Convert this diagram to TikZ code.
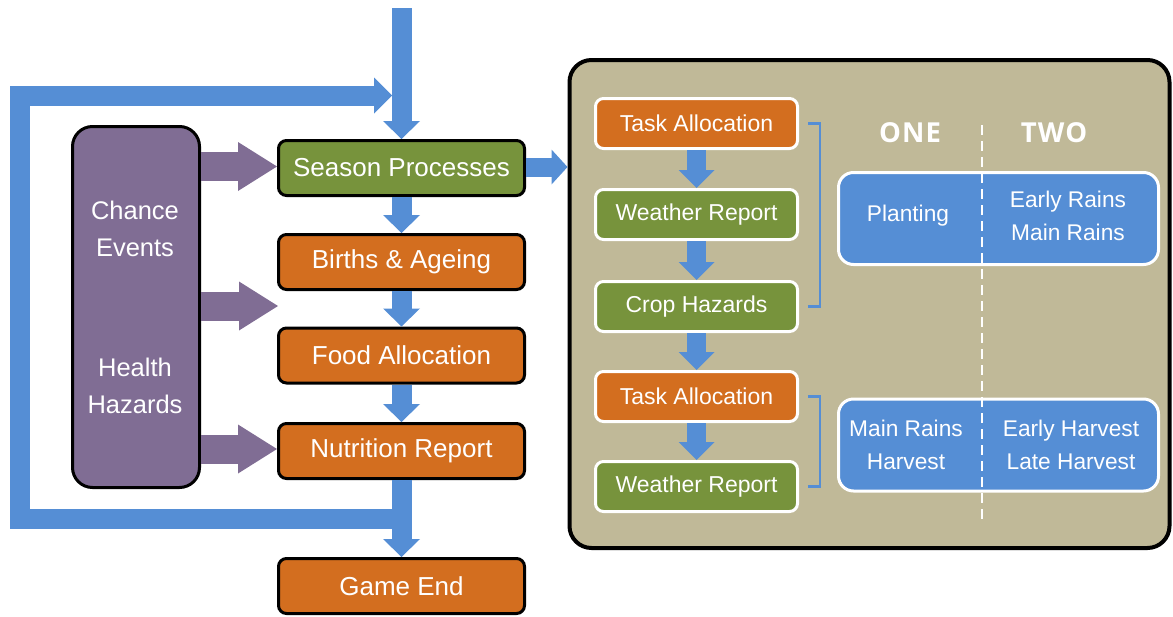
\documentclass[tikz,border=0pt]{standalone}
\usepackage{fontspec}
\setmainfont{Liberation Sans}
\newfontfamily\headfont[LetterSpace=4]{Open Sans}
\usetikzlibrary{arrows.meta}
\definecolor{cgreen}{HTML}{77933C}
\definecolor{corange}{HTML}{D36E1F}
\definecolor{cpurple}{HTML}{806D94}
\definecolor{cblue}{HTML}{558ED5}
\definecolor{ctan}{HTML}{C0B998}
\begin{document}
\begin{tikzpicture}[x=1pt,y=-1pt,
  mainbox/.style={draw=black, line width=3pt, rounded corners=8pt, minimum width=246pt, minimum height=55pt, text=white, font=\fontsize{26}{30}\selectfont, inner sep=0pt},
  inbox/.style={draw=white, line width=3pt, rounded corners=8pt, minimum width=202pt, minimum height=50pt, text=white, font=\fontsize{23}{28}\selectfont, inner sep=0pt},
  bluebox/.style={draw=white, line width=3pt, rounded corners=15pt, fill=cblue, minimum width=320pt, minimum height=92pt, inner sep=0pt},
  btext/.style={text=white, align=center, font=\fontsize{22.7}{33}\selectfont, inner sep=0pt},
  ptext/.style={text=white, align=center, font=\fontsize{25.5}{37}\selectfont, inner sep=0pt},
  htext/.style={text=white, font=\headfont\bfseries\fontsize{27.5}{30}\selectfont, inner sep=0pt},
  barrow/.style={draw=cblue, line width=20pt, -{Triangle[width=37pt,length=18pt,line width=0pt]}},
  sarrow/.style={draw=cblue, line width=19pt, -{Triangle[width=36pt,length=18pt,line width=0pt]}},
  parrow/.style={draw=cpurple, line width=29pt, -{Triangle[width=49pt,length=39pt,line width=0pt]}},
  loopline/.style={draw=cblue, line width=20pt, miter limit=10, -{Triangle[width=36pt,length=18pt,line width=0pt]}},
  bracketline/.style={draw=cblue, line width=2.5pt},
  dashline/.style={draw=white, line width=2.5pt, dash pattern=on 10pt off 6pt}
]
\useasboundingbox (0,0) rectangle (1173,616);

% right panel
\node[draw=black, line width=4pt, rounded corners=22pt, fill=ctan, minimum width=600pt, minimum height=488pt, inner sep=0pt] (panel) at (869.5,304) {};

% main column
\node[mainbox, fill=cgreen] (sp) at (401.5,168) {Season Processes};
\node[mainbox, fill=corange] (ba) at (401.5,262) {Births \& Ageing};
\node[mainbox, fill=corange] (fa) at (401.5,355.5) {Food Allocation};
\node[mainbox, fill=corange] (nr) at (401.5,451) {Nutrition Report};
\node[mainbox, fill=corange] (ge) at (401.5,586) {Game End};

% purple box
\node[draw=black, line width=3pt, rounded corners=20pt, fill=cpurple, minimum width=127pt, minimum height=361pt, inner sep=0pt] (pe) at (136,307) {};
\node[ptext] (ce) at (135,228.5) {Chance\\Events};
\node[ptext] (hh) at (135,386) {Health\\Hazards};

% coordinates
\coordinate (top) at (401.5,8);
\coordinate (gap) at (278,306);
\coordinate (lb) at (401.5,519);
\coordinate (lt) at (392,95.5);

% loop
\draw[loopline] (lb) -- (20,519) -- (20,95.5) -- (lt);
% blue arrows main column
\draw[barrow] (top) -- (sp.north);
\draw[barrow] (sp.south) -- (ba.north);
\draw[barrow] (ba.south) -- (fa.north);
\draw[barrow] (fa.south) -- (nr.north);
\draw[barrow] (nr.south) -- (ge.north);
\draw[draw=cblue, line width=19pt, -{Triangle[width=35pt,length=16pt,line width=0pt]}] (sp.east |- 0,167) -- (panel.west |- 0,167);

% purple arrows
\draw[parrow] (pe.east |- 0,166.5) -- (sp.west |- 0,166.5);
\draw[parrow] (pe.east |- gap) -- (gap);
\draw[parrow] (pe.east |- 0,449) -- (nr.west |- 0,449);

% inner boxes
\node[inbox, fill=corange] (ta1) at (696.5,123.5) {Task Allocation};
\node[inbox, fill=cgreen] (wr1) at (696.5,214.5) {Weather Report};
\node[inbox, fill=cgreen] (ch) at (696.5,306.5) {Crop Hazards};
\node[inbox, fill=corange] (ta2) at (696.5,396.5) {Task Allocation};
\node[inbox, fill=cgreen] (wr2) at (696.5,486.5) {Weather Report};

\draw[sarrow] (ta1.south) -- (wr1.north);
\draw[sarrow] (wr1.south) -- (ch.north);
\draw[sarrow] (ch.south) -- (ta2.north);
\draw[sarrow] (ta2.south) -- (wr2.north);

% brackets
\draw[bracketline] ([xshift=9pt]ta1.east) -| ([xshift=21pt]ch.east) -- ([xshift=9pt]ch.east);
\draw[bracketline] ([xshift=9pt]ta2.east) -| ([xshift=21pt]wr2.east) -- ([xshift=9pt]wr2.east);

% blue boxes
\node[bluebox] (bb1) at (998.5,218.5) {};
\node[bluebox] (bb2) at (998.5,445) {};

% dashed divider
\coordinate (dtop) at (982,125);
\coordinate (dbot) at (982,523);
\draw[dashline] (dtop) -- (dbot);

% headers
\node[htext] (one) at (910,133) {ONE};
\node[htext] (two) at (1054,133) {TWO};

% box texts
\node[btext] (plant) at (908,216) {Planting};
\node[btext] (rains) at (1068,215.5) {Early Rains\\Main Rains};
\node[btext] (mrh) at (906,445) {Main Rains\\Harvest};
\node[btext] (harv) at (1071,444.5) {Early Harvest\\Late Harvest};
\end{tikzpicture}
\end{document}
